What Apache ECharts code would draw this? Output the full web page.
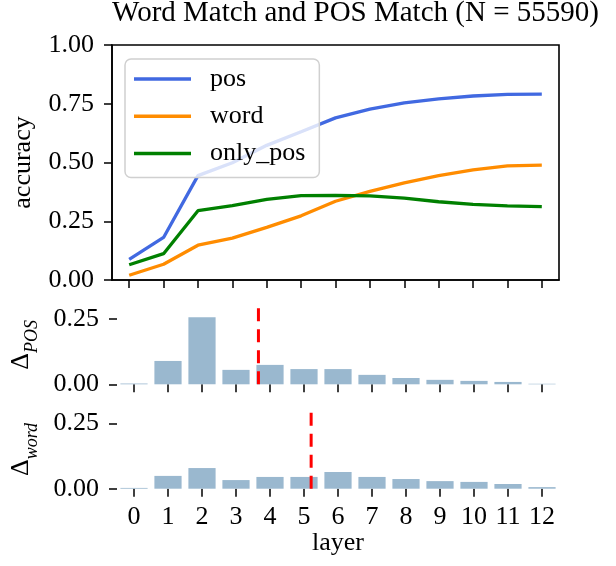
<!DOCTYPE html>
<html><head><meta charset="utf-8">
<script src="https://cdn.jsdelivr.net/npm/echarts@6/dist/echarts.min.js"></script>
<style>html,body{margin:0;padding:0;background:#fff}#c{width:616px;height:566px}</style>
</head><body><div id="c"></div>
<script>
const layers = [0,1,2,3,4,5,6,7,8,9,10,11,12];
const posAcc = [0.088,0.181,0.444,0.499,0.573,0.631,0.690,0.727,0.754,0.771,0.783,0.790,0.791];
const wordAcc = [0.020,0.067,0.148,0.178,0.224,0.273,0.335,0.377,0.413,0.444,0.469,0.486,0.489];
const onlyPosAcc = [0.065,0.112,0.295,0.316,0.343,0.359,0.360,0.358,0.348,0.333,0.322,0.315,0.312];
const deltaPos = [0.003,0.089,0.256,0.055,0.074,0.058,0.058,0.036,0.024,0.017,0.013,0.009,0.002];
const deltaWord = [0.003,0.049,0.079,0.033,0.045,0.045,0.064,0.045,0.037,0.029,0.026,0.018,0.006];
const posCenter = 3.66;
const wordCenter = 5.21;
const accTicks = [0,0.25,0.5,0.75,1.0];
const deltaTicks = [0,0.25];

const FONT = 'Liberation Serif';
const FS = 26;
const chart = echarts.init(document.getElementById('c'));
const pairs = arr => layers.map((l,i)=>[l,arr[i]]);
function xAx(gi, labels){
  return {type:'value', gridIndex:gi, min:-0.5, max:12.5,
    axisLine:{show: gi===0, onZero:false, lineStyle:{color:'#000', width:1.6}},
    axisTick:{show:true, length:8, lineStyle:{color:'#000', width:1.5}, customValues: layers},
    axisLabel:{show:labels, customValues: layers, margin:15, color:'#000', fontFamily:FONT, fontSize:FS},
    splitLine:{show:false},
    name: labels ? 'layer' : '', nameLocation:'middle', nameGap:29,
    nameTextStyle:{color:'#000', fontFamily:FONT, fontSize:FS, verticalAlign:'top'}};
}
function yAx(gi, max, ticks, name, line, gap){
  return {type:'value', gridIndex:gi, min:0, max:max,
    axisLine:{show: line, onZero:false, lineStyle:{color:'#000', width:1.6}},
    axisTick:{show:true, length:8, lineStyle:{color:'#000', width:1.5}, customValues: ticks},
    axisLabel:{customValues: ticks, margin:18, color:'#000', fontFamily:FONT, fontSize:FS,
      formatter: v => v.toFixed(2)},
    splitLine:{show:false},
    name: name, nameLocation:'middle', nameRotate:90, nameGap:gap,
    nameTextStyle:{color:'#000', fontFamily:FONT, fontSize:FS,
      rich:{d:{fontFamily:FONT, fontSize:FS, lineHeight:26, color:'#000', verticalAlign:'bottom', padding:[0,0,7,0]},
            s:{fontFamily:FONT, fontSize:18, lineHeight:18, fontStyle:'italic', color:'#000', verticalAlign:'bottom'}}}};
}
const vline = (gi, x) => ({type:'line', xAxisIndex:gi, yAxisIndex:gi, data:[[x,0],[x,0.3]],
  symbol:'none', silent:true, z:5,
  lineStyle:{color:'#ff0000', width:3, type:[13,8]}});

chart.setOption({
  animation:false,
  title:{text:'Word Match and POS Match (N = 55590)', left:355.5, textAlign:'center', top:-1, padding:0,
    textStyle:{color:'#000', fontFamily:FONT, fontSize:29, fontWeight:'normal'}},
  legend:{data:['pos','word','only_pos'], orient:'vertical', left:125, top:59,
    icon:'rect', itemWidth:57, itemHeight:3.5, itemGap:11.3,
    padding:[7,14,11,9], backgroundColor:'rgba(255,255,255,0.8)',
    borderColor:'#d0d0d0', borderWidth:1.5, borderRadius:6,
    textStyle:{color:'#000', fontFamily:FONT, fontSize:FS, lineHeight:26, padding:[0,0,0,14]}},
  grid:[
    {left:112, top:45, width:447, height:235, show:true, borderColor:'#000', borderWidth:1.6},
    {left:112, top:305.6, width:447, height:78.7},
    {left:112, top:410.3, width:447, height:78.4}
  ],
  xAxis:[xAx(0,false), xAx(1,false), xAx(2,true)],
  yAxis:[
    yAx(0, 1, accTicks, 'accuracy', true, 76),
    yAx(1, 0.3, deltaTicks, '{d|Δ}{s|POS}', false, 76),
    yAx(2, 0.3, deltaTicks, '{d|Δ}{s|word}', false, 76)
  ],
  series:[
    {name:'pos', type:'line', data:pairs(posAcc), symbol:'none', lineStyle:{color:'#4169e1', width:3.3}, itemStyle:{color:'#4169e1'}},
    {name:'word', type:'line', data:pairs(wordAcc), symbol:'none', lineStyle:{color:'#ff8c00', width:3.3}, itemStyle:{color:'#ff8c00'}},
    {name:'only_pos', type:'line', data:pairs(onlyPosAcc), symbol:'none', lineStyle:{color:'#008000', width:3.3}, itemStyle:{color:'#008000'}},
    {type:'bar', xAxisIndex:1, yAxisIndex:1, data:pairs(deltaPos), barWidth:'80%', itemStyle:{color:'#9ab8cf'}},
    {type:'bar', xAxisIndex:2, yAxisIndex:2, data:pairs(deltaWord), barWidth:'80%', itemStyle:{color:'#9ab8cf'}},
    vline(1, posCenter),
    vline(2, wordCenter)
  ]
});
</script></body></html>
